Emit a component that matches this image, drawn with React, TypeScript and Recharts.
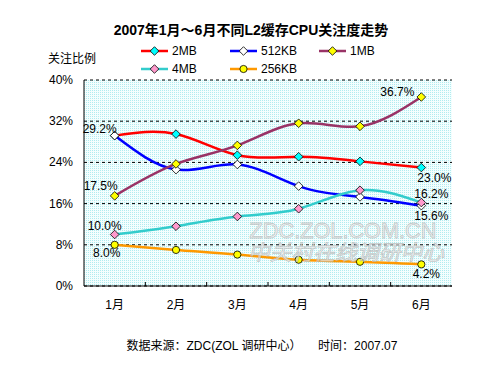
import React from "react";
import { LineChart, Line, XAxis, YAxis, CartesianGrid } from "recharts";

const months = ["1月", "2月", "3月", "4月", "5月", "6月"];
const s2MB = [29.2, 29.5, 25.4, 25.1, 24.2, 23.0];
const s512KB = [29.2, 22.6, 23.6, 19.4, 17.3, 15.6];
const s1MB = [17.5, 23.7, 27.3, 31.6, 31.0, 36.7];
const s4MB = [10.0, 11.6, 13.5, 15.0, 18.6, 16.2];
const s256KB = [8.0, 7.0, 6.1, 5.1, 4.7, 4.2];
const yTicks = [0, 8, 16, 24, 32, 40];

const title = "2007年1月～6月不同L2缓存CPU关注度走势";
const yTitle = "关注比例";
const footnote = "数据来源：ZDC(ZOL 调研中心）     时间：2007.07";

type Series = {
  key: string;
  name: string;
  values: number[];
  color: string;
  marker: string;
  shape: "diamond" | "circle";
};

const series: Series[] = [
  { key: "m2", name: "2MB", values: s2MB, color: "#FF0000", marker: "#00FFFF", shape: "diamond" },
  { key: "k512", name: "512KB", values: s512KB, color: "#0000FF", marker: "#FFFFFF", shape: "diamond" },
  { key: "m1", name: "1MB", values: s1MB, color: "#993366", marker: "#FFFF00", shape: "diamond" },
  { key: "m4", name: "4MB", values: s4MB, color: "#33CCCC", marker: "#FF99CC", shape: "diamond" },
  { key: "k256", name: "256KB", values: s256KB, color: "#FF9900", marker: "#FFFF00", shape: "circle" },
];

const data = months.map((m, i) => {
  const row: Record<string, string | number> = { month: m };
  series.forEach((s) => (row[s.key] = s.values[i]));
  return row;
});

// label placement offsets (style, not data)
const labelOffsets: Record<string, { index: number; dx: number; dy: number }[]> = {
  m2: [
    { index: 0, dx: -15, dy: -7 },
    { index: 5, dx: 13, dy: 10 },
  ],
  k512: [{ index: 5, dx: 10, dy: 10 }],
  m1: [
    { index: 0, dx: -14, dy: -10 },
    { index: 5, dx: -24, dy: -5 },
  ],
  m4: [
    { index: 0, dx: -10, dy: -9 },
    { index: 5, dx: 10, dy: -9 },
  ],
  k256: [
    { index: 0, dx: -8, dy: 8 },
    { index: 5, dx: 5, dy: 10 },
  ],
};

const FONT = "'Liberation Sans', Arial, 'Noto Sans CJK SC', sans-serif";
const CJK = "'Liberation Sans', Arial, 'Noto Sans CJK SC', sans-serif";

function Marker({ cx, cy, s }: { cx: number; cy: number; s: Series }) {
  if (s.shape === "circle") {
    return <circle cx={cx} cy={cy} r={3.6} fill={s.marker} stroke="#000" strokeWidth={0.8} />;
  }
  const r = 4.3;
  return (
    <polygon
      points={`${cx},${cy - r} ${cx + r},${cy} ${cx},${cy + r} ${cx - r},${cy}`}
      fill={s.marker}
      stroke="#000"
      strokeWidth={0.8}
    />
  );
}

const BAND_HALF = 368 / 6 / 2;

function XTick(props: any) {
  const { x, y, payload, index } = props;
  return (
    <g>
      {index > 0 && (
        <line x1={x - BAND_HALF} x2={x - BAND_HALF} y1={y - 4} y2={y} stroke="#000" strokeWidth={1} />
      )}
      <text x={x} y={y + 19} textAnchor="middle" dominantBaseline="central" fontSize={12} fill="#000" fontFamily={CJK}>
        {payload.value}
      </text>
    </g>
  );
}

function YTick(props: any) {
  const { x, y, payload } = props;
  return (
    <text x={x} y={y} textAnchor="end" dominantBaseline="central" fontSize={12} fill="#000" fontFamily={FONT}>
      {payload.value}%
    </text>
  );
}

const legendCols = [141, 230, 319];
const legendRows = [51, 69];

export default function App() {
  return (
    <div style={{ position: "absolute", left: 0, top: 0, width: 500, height: 375, background: "#fff" }}>
      <LineChart width={500} height={375} data={data} margin={{ top: 80, right: 48, bottom: 59, left: 0 }}>
        <defs>
          <pattern id="dots" width="2" height="2" patternUnits="userSpaceOnUse">
            <rect x="0" y="0" width="2" height="2" fill="#F4FEFE" />
            <rect x="0" y="0" width="1" height="1" fill="#B0ECF0" />
          </pattern>
        </defs>
        <CartesianGrid vertical={false} fill="url(#dots)" stroke="#000" strokeDasharray="3 3" />
        <XAxis
          dataKey="month"
          scale="band"
          tick={<XTick />}
          tickLine={false}
          tickSize={0}
          tickMargin={0}
          height={30}
          axisLine={{ stroke: "#000" }}
          interval={0}
        />
        <XAxis xAxisId="top" orientation="top" dataKey="month" scale="band" height={0} tick={false} tickLine={false} axisLine={{ stroke: "#808080" }} />
        <YAxis
          domain={[0, 40]}
          ticks={yTicks}
          width={84}
          tickLine={false}
          tickSize={0}
          tickMargin={11}
          tick={<YTick />}
          axisLine={{ stroke: "#000" }}
          interval={0}
        />
        <YAxis yAxisId="right" orientation="right" domain={[0, 40]} width={0} tick={false} tickLine={false} axisLine={{ stroke: "#808080" }} />
        {series.map((s) => (
          <Line
            key={s.key}
            dataKey={s.key}
            name={s.name}
            type="natural"
            stroke={s.color}
            strokeWidth={2.5}
            isAnimationActive={false}
            dot={(p: any) => <Marker key={`${s.key}-${p.index}`} cx={p.cx} cy={p.cy} s={s} />}
            activeDot={false}
            label={(p: any) => {
              const off = (labelOffsets[s.key] || []).find((o) => o.index === p.index);
              if (!off) return <g key={`${s.key}-l-${p.index}`} />;
              return (
                <text
                  key={`${s.key}-l-${p.index}`}
                  x={p.x + off.dx}
                  y={p.y + off.dy}
                  textAnchor="middle"
                  dominantBaseline="central"
                  fontSize={12}
                  fill="#000"
                  fontFamily={FONT}
                >
                  {Number(p.value).toFixed(1)}%
                </text>
              );
            }}
          />
        ))}
      </LineChart>
      <svg width={500} height={375} style={{ position: "absolute", left: 0, top: 0, pointerEvents: "none" }}>
        <text x={251} y={30} textAnchor="middle" dominantBaseline="central" fontSize={14} fontWeight="bold" fill="#000" fontFamily={CJK}>
          {title}
        </text>
        <text x={48} y={59} dominantBaseline="central" fontSize={12} fill="#000" fontFamily={CJK}>
          {yTitle}
        </text>
        {series.map((s, i) => {
          const x = legendCols[i % 3];
          const y = legendRows[Math.floor(i / 3)];
          return (
            <g key={s.key}>
              <line x1={x} x2={x + 27} y1={y} y2={y} stroke={s.color} strokeWidth={2.5} />
              <Marker cx={x + 13.5} cy={y} s={s} />
              <text x={x + 31} y={y} dominantBaseline="central" fontSize={12} fill="#000" fontFamily={FONT}>
                {s.name}
              </text>
            </g>
          );
        })}
        <g opacity={0.75}>
          <text x={343} y={230} textAnchor="middle" dominantBaseline="central" fontSize={22} fill="#f4f4f4" stroke="#b8b8b8" strokeWidth={0.8} fontFamily={FONT} textLength={187} lengthAdjust="spacingAndGlyphs">
            ZDC.ZOL.COM.CN
          </text>
          <text x={346} y={252} textAnchor="middle" dominantBaseline="central" fontSize={21} fontStyle="italic" fill="#f4f4f4" stroke="#b8b8b8" strokeWidth={0.8} fontFamily={CJK} textLength={196} lengthAdjust="spacingAndGlyphs">
            中关村在线调研中心
          </text>
        </g>
        <text x={262} y={346} textAnchor="middle" dominantBaseline="central" fontSize={12} fill="#000" fontFamily={CJK} xmlSpace="preserve">
          {footnote}
        </text>
      </svg>
    </div>
  );
}
